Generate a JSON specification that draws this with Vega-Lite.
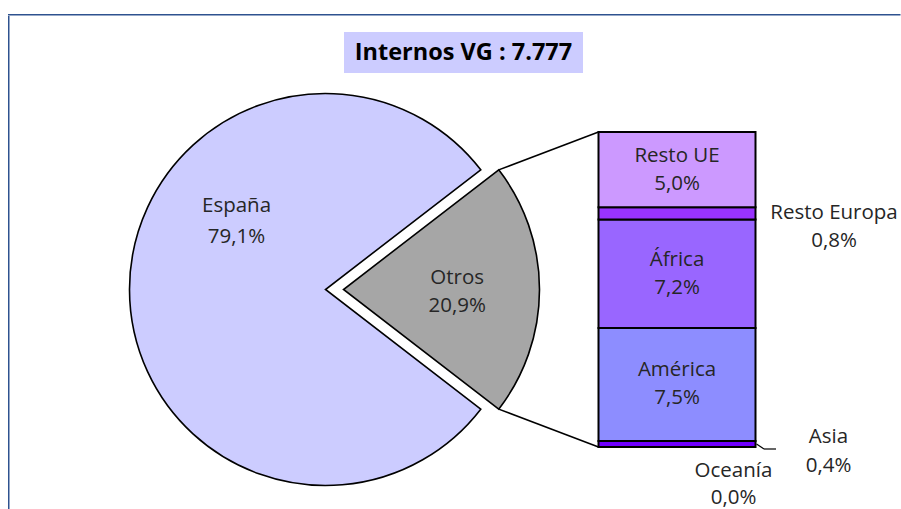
{
  "$schema": "https://vega.github.io/schema/vega-lite/v6.json",
  "padding": {"left": 8, "top": 14, "right": 0, "bottom": 0},
  "config": {
    "font": "Open Sans",
    "locale": {"number": {"decimal": ",", "thousands": ".", "grouping": [3], "currency": ["", " €"]}}
  },
  "datasets": {
    "pie": [
      {"grupo": "Total", "region": "Otros", "pct": 0.209, "orden": 1},
      {"grupo": "Total", "region": "España", "pct": 0.791, "orden": 2}
    ],
    "bar": [
      {"grupo": "Otros", "region": "Oceanía", "pct": 0.0, "orden": 1},
      {"grupo": "Otros", "region": "Asia", "pct": 0.004, "orden": 2},
      {"grupo": "Otros", "region": "América", "pct": 0.075, "orden": 3},
      {"grupo": "Otros", "region": "África", "pct": 0.072, "orden": 4},
      {"grupo": "Otros", "region": "Resto Europa", "pct": 0.008, "orden": 5},
      {"grupo": "Otros", "region": "Resto UE", "pct": 0.05, "orden": 6}
    ]
  },
  "spacing": 0,
  "vconcat": [
    {"width": 892.5, "height": 1.5, "view": {"stroke": null, "fill": "#2E528F"},
     "data": {"values": [{}]}, "mark": {"type": "point", "size": 0, "opacity": 0, "strokeWidth": 0}},
    {
      "spacing": 0,
      "hconcat": [
        {"width": 1.5, "height": 493.5, "view": {"stroke": null, "fill": "#2E528F"},
         "data": {"values": [{}]}, "mark": {"type": "point", "size": 0, "opacity": 0, "strokeWidth": 0}},
        {
          "spacing": 0,
          "vconcat": [
            {"width": 10, "height": 15.5, "view": {"stroke": null},
             "data": {"values": [{}]}, "mark": {"type": "point", "size": 0, "opacity": 0, "strokeWidth": 0}},
            {
              "spacing": 0,
              "hconcat": [
                {"width": 333.5, "height": 41, "view": {"stroke": null},
                 "data": {"values": [{}]}, "mark": {"type": "point", "size": 0, "opacity": 0, "strokeWidth": 0}},
                {"width": 239, "height": 41, "view": {"stroke": null, "fill": "#CCCCFF"},
                 "data": {"values": [{"titulo": "Internos VG : 7.777"}]},
                 "mark": {"type": "text", "fontSize": 23.5, "fontWeight": "bold", "color": "#000"},
                 "encoding": {"text": {"field": "titulo", "type": "nominal"}}}
              ]
            },
            {
              "width": 891,
              "height": 437,
              "view": {"stroke": null},
              "layer": [
                {
                  "data": {"name": "pie"},
                  "mark": {"type": "arc", "outerRadius": 196, "stroke": "#000", "strokeWidth": 1.6},
                  "encoding": {
                    "x": {"field": "grupo", "type": "nominal", "axis": null, "scale": {"type": "band", "domain": ["Total", "Otros"], "paddingInner": 0.553343, "paddingOuter": 0.544097, "align": 0.619608}},
                    "y": {"datum": 0.1045, "type": "quantitative", "axis": null, "scale": {"domain": [-0.0418, 0.248146], "nice": false, "zero": false}},
                    "theta": {"field": "pct", "type": "quantitative", "stack": true, "scale": {"domain": [0, 1], "range": [0.914203, 7.197388]}},
                    "order": {"field": "orden", "type": "quantitative"},
                    "color": {"field": "region", "type": "nominal", "legend": null, "scale": {"domain": ["España", "Otros", "Resto UE", "Resto Europa", "África", "América", "Asia", "Oceanía"], "range": ["#CCCCFF", "#A6A6A6", "#CC99FF", "#9933FF", "#9966FF", "#8D8DFF", "#7000FF", "#3333CC"]}},
                    "opacity": {"condition": {"test": "datum.region === 'España'", "value": 1}, "value": 0}
                  }
                },
                {
                  "data": {"name": "pie"},
                  "mark": {"type": "arc", "outerRadius": 196, "stroke": "#000", "strokeWidth": 1.6, "xOffset": 18},
                  "encoding": {
                    "x": {"field": "grupo", "type": "nominal", "axis": null},
                    "y": {"datum": 0.1045, "type": "quantitative", "axis": null},
                    "theta": {"field": "pct", "type": "quantitative", "stack": true},
                    "order": {"field": "orden", "type": "quantitative"},
                    "color": {"field": "region", "type": "nominal", "legend": null},
                    "opacity": {"condition": {"test": "datum.region === 'Otros'", "value": 1}, "value": 0}
                  }
                },
                {
                  "data": {"name": "bar"},
                  "mark": {"type": "bar", "stroke": "#000", "strokeWidth": 2},
                  "encoding": {
                    "x": {"field": "grupo", "type": "nominal", "axis": null},
                    "y": {"field": "pct", "type": "quantitative", "stack": "zero", "axis": null},
                    "order": {"field": "orden", "type": "quantitative"},
                    "color": {"field": "region", "type": "nominal", "legend": null}
                  }
                },
                {
                  "data": {"name": "bar"},
                  "mark": {"type": "text", "fontSize": 20.5, "color": "#262626", "dy": -14},
                  "encoding": {
                    "x": {"field": "grupo", "type": "nominal", "axis": null},
                    "y": {"field": "pct", "type": "quantitative", "stack": "zero", "bandPosition": 0.5, "axis": null},
                    "order": {"field": "orden", "type": "quantitative"},
                    "detail": {"field": "region", "type": "nominal"},
                    "text": {"condition": {"test": "datum.pct >= 0.02", "field": "region", "type": "nominal"}, "value": ""}
                  }
                },
                {
                  "data": {"name": "bar"},
                  "mark": {"type": "text", "fontSize": 20.5, "color": "#262626", "dy": 14},
                  "encoding": {
                    "x": {"field": "grupo", "type": "nominal", "axis": null},
                    "y": {"field": "pct", "type": "quantitative", "stack": "zero", "bandPosition": 0.5, "axis": null},
                    "order": {"field": "orden", "type": "quantitative"},
                    "detail": {"field": "region", "type": "nominal"},
                    "text": {"condition": {"test": "datum.pct >= 0.02", "field": "pct", "type": "quantitative", "format": ".1%"}, "value": ""}
                  }
                },
                {
                  "data": {"name": "bar"},
                  "mark": {"type": "text", "fontSize": 20.5, "color": "#262626", "dx": 157, "dy": 0},
                  "encoding": {
                    "x": {"field": "grupo", "type": "nominal", "axis": null},
                    "y": {"field": "pct", "type": "quantitative", "stack": "zero", "bandPosition": 0.5, "axis": null},
                    "order": {"field": "orden", "type": "quantitative"},
                    "detail": {"field": "region", "type": "nominal"},
                    "text": {"condition": {"test": "datum.region === 'Resto Europa'", "field": "region", "type": "nominal"}, "value": ""}
                  }
                },
                {
                  "data": {"name": "bar"},
                  "mark": {"type": "text", "fontSize": 20.5, "color": "#262626", "dx": 157, "dy": 28},
                  "encoding": {
                    "x": {"field": "grupo", "type": "nominal", "axis": null},
                    "y": {"field": "pct", "type": "quantitative", "stack": "zero", "bandPosition": 0.5, "axis": null},
                    "order": {"field": "orden", "type": "quantitative"},
                    "detail": {"field": "region", "type": "nominal"},
                    "text": {"condition": {"test": "datum.region === 'Resto Europa'", "field": "pct", "type": "quantitative", "format": ".1%"}, "value": ""}
                  }
                },
                {
                  "data": {"name": "bar"},
                  "mark": {"type": "text", "fontSize": 20.5, "color": "#262626", "dx": 151.5, "dy": -6.5},
                  "encoding": {
                    "x": {"field": "grupo", "type": "nominal", "axis": null},
                    "y": {"field": "pct", "type": "quantitative", "stack": "zero", "bandPosition": 0.5, "axis": null},
                    "order": {"field": "orden", "type": "quantitative"},
                    "detail": {"field": "region", "type": "nominal"},
                    "text": {"condition": {"test": "datum.region === 'Asia'", "field": "region", "type": "nominal"}, "value": ""}
                  }
                },
                {
                  "data": {"name": "bar"},
                  "mark": {"type": "text", "fontSize": 20.5, "color": "#262626", "dx": 151.5, "dy": 22},
                  "encoding": {
                    "x": {"field": "grupo", "type": "nominal", "axis": null},
                    "y": {"field": "pct", "type": "quantitative", "stack": "zero", "bandPosition": 0.5, "axis": null},
                    "order": {"field": "orden", "type": "quantitative"},
                    "detail": {"field": "region", "type": "nominal"},
                    "text": {"condition": {"test": "datum.region === 'Asia'", "field": "pct", "type": "quantitative", "format": ".1%"}, "value": ""}
                  }
                },
                {
                  "data": {"name": "bar"},
                  "mark": {"type": "text", "fontSize": 20.5, "color": "#262626", "dx": 56.5, "dy": 24},
                  "encoding": {
                    "x": {"field": "grupo", "type": "nominal", "axis": null},
                    "y": {"field": "pct", "type": "quantitative", "stack": "zero", "bandPosition": 0.5, "axis": null},
                    "order": {"field": "orden", "type": "quantitative"},
                    "detail": {"field": "region", "type": "nominal"},
                    "text": {"condition": {"test": "datum.region === 'Oceanía'", "field": "region", "type": "nominal"}, "value": ""}
                  }
                },
                {
                  "data": {"name": "bar"},
                  "mark": {"type": "text", "fontSize": 20.5, "color": "#262626", "dx": 56.5, "dy": 51},
                  "encoding": {
                    "x": {"field": "grupo", "type": "nominal", "axis": null},
                    "y": {"field": "pct", "type": "quantitative", "stack": "zero", "bandPosition": 0.5, "axis": null},
                    "order": {"field": "orden", "type": "quantitative"},
                    "detail": {"field": "region", "type": "nominal"},
                    "text": {"condition": {"test": "datum.region === 'Oceanía'", "field": "pct", "type": "quantitative", "format": ".1%"}, "value": ""}
                  }
                },
                {
                  "data": {"name": "pie"},
                  "mark": {"type": "text", "fontSize": 20.5, "color": "#262626", "radius": 112, "thetaOffset": 0.653, "dy": -15.5},
                  "encoding": {
                    "x": {"field": "grupo", "type": "nominal", "axis": null},
                    "y": {"datum": 0.1045, "type": "quantitative", "axis": null},
                    "theta": {"field": "pct", "type": "quantitative", "stack": true},
                    "order": {"field": "orden", "type": "quantitative"},
                    "detail": {"field": "region", "type": "nominal"},
                    "text": {"condition": {"test": "datum.region === 'España'", "field": "region", "type": "nominal"}, "value": ""}
                  }
                },
                {
                  "data": {"name": "pie"},
                  "mark": {"type": "text", "fontSize": 20.5, "color": "#262626", "radius": 112, "thetaOffset": 0.653, "dy": 15.5},
                  "encoding": {
                    "x": {"field": "grupo", "type": "nominal", "axis": null},
                    "y": {"datum": 0.1045, "type": "quantitative", "axis": null},
                    "theta": {"field": "pct", "type": "quantitative", "stack": true},
                    "order": {"field": "orden", "type": "quantitative"},
                    "detail": {"field": "region", "type": "nominal"},
                    "text": {"condition": {"test": "datum.region === 'España'", "field": "pct", "type": "quantitative", "format": ".1%"}, "value": ""}
                  }
                },
                {
                  "data": {"name": "pie"},
                  "mark": {"type": "text", "fontSize": 20.5, "color": "#262626", "radius": 113.7, "xOffset": 18, "dy": -11},
                  "encoding": {
                    "x": {"field": "grupo", "type": "nominal", "axis": null},
                    "y": {"datum": 0.1045, "type": "quantitative", "axis": null},
                    "theta": {"field": "pct", "type": "quantitative", "stack": true},
                    "order": {"field": "orden", "type": "quantitative"},
                    "detail": {"field": "region", "type": "nominal"},
                    "text": {"condition": {"test": "datum.region === 'Otros'", "field": "region", "type": "nominal"}, "value": ""}
                  }
                },
                {
                  "data": {"name": "pie"},
                  "mark": {"type": "text", "fontSize": 20.5, "color": "#262626", "radius": 113.7, "xOffset": 18, "dy": 17},
                  "encoding": {
                    "x": {"field": "grupo", "type": "nominal", "axis": null},
                    "y": {"datum": 0.1045, "type": "quantitative", "axis": null},
                    "theta": {"field": "pct", "type": "quantitative", "stack": true},
                    "order": {"field": "orden", "type": "quantitative"},
                    "detail": {"field": "region", "type": "nominal"},
                    "text": {"condition": {"test": "datum.region === 'Otros'", "field": "pct", "type": "quantitative", "format": ".1%"}, "value": ""}
                  }
                },
                {
                  "data": {"values": [{}]},
                  "mark": {"type": "rule", "color": "#000", "strokeWidth": 1.5, "xOffset": 173.2, "yOffset": -119.6, "x2Offset": -78.5},
                  "encoding": {
                    "x": {"datum": "Total", "type": "nominal", "axis": null},
                    "x2": {"datum": "Otros"},
                    "y": {"datum": 0.1045, "type": "quantitative", "axis": null},
                    "y2": {"datum": 0.209}
                  }
                },
                {
                  "data": {"values": [{}]},
                  "mark": {"type": "rule", "color": "#000", "strokeWidth": 1.5, "xOffset": 173.2, "yOffset": 119.6, "x2Offset": -78.5},
                  "encoding": {
                    "x": {"datum": "Total", "type": "nominal", "axis": null},
                    "x2": {"datum": "Otros"},
                    "y": {"datum": 0.1045, "type": "quantitative", "axis": null},
                    "y2": {"datum": 0}
                  }
                },
                {
                  "data": {"values": [{}]},
                  "mark": {"type": "rule", "color": "#000", "strokeWidth": 1.2, "xOffset": 79.5, "x2Offset": 87, "y2Offset": 2},
                  "encoding": {
                    "x": {"datum": "Otros", "type": "nominal", "axis": null},
                    "x2": {"datum": "Otros"},
                    "y": {"datum": 0.002, "type": "quantitative", "axis": null},
                    "y2": {"datum": 0}
                  }
                },
                {
                  "data": {"values": [{}]},
                  "mark": {"type": "rule", "color": "#000", "strokeWidth": 1.2, "xOffset": 87, "x2Offset": 99, "yOffset": 2, "y2Offset": 2},
                  "encoding": {
                    "x": {"datum": "Otros", "type": "nominal", "axis": null},
                    "x2": {"datum": "Otros"},
                    "y": {"datum": 0, "type": "quantitative", "axis": null},
                    "y2": {"datum": 0}
                  }
                }
              ]
            }
          ]
        }
      ]
    }
  ]
}
